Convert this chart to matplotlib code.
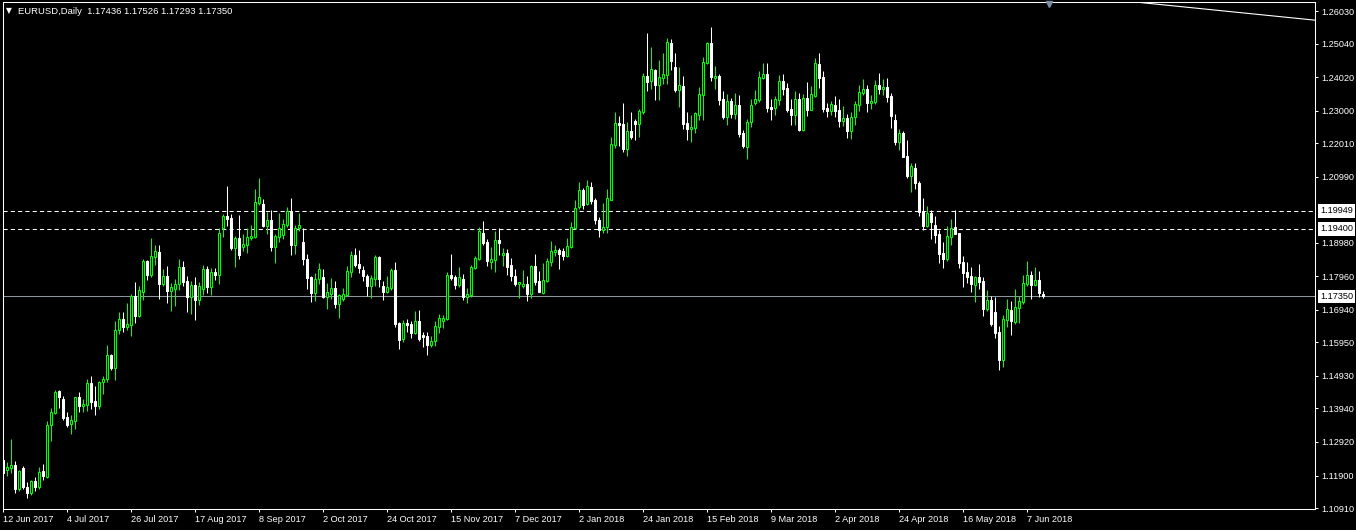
import matplotlib
matplotlib.use('Agg')
import matplotlib.pyplot as plt
import matplotlib.transforms as mtransforms
import numpy as np

# EURUSD daily bars, 12 Jun 2017 .. 13 Jun 2018
opens = [
    1.1237, 1.1208, 1.1213, 1.1222, 1.1150, 1.1213, 1.1156, 1.1138, 1.1173, 1.1156,
    1.1204, 1.1186, 1.1343, 1.1381, 1.1447, 1.1423, 1.1368, 1.1348, 1.1357, 1.1428,
    1.1402, 1.1403, 1.1472, 1.1417, 1.1400, 1.1475, 1.1483, 1.1557, 1.1518, 1.1632,
    1.1666, 1.1643, 1.1649, 1.1736, 1.1675, 1.1747, 1.1842, 1.1800, 1.1856, 1.1870,
    1.1773, 1.1797, 1.1752, 1.1757, 1.1772, 1.1824, 1.1782, 1.1734, 1.1770, 1.1725,
    1.1756, 1.1818, 1.1762, 1.1809, 1.1800, 1.1943, 1.1980, 1.1973, 1.1882, 1.1913,
    1.1885, 1.1892, 1.1913, 1.1916, 1.2019, 1.2017, 1.1949, 1.1967, 1.1885, 1.1916,
    1.1923, 1.1952, 1.1995, 1.1891, 1.1942, 1.1900, 1.1849, 1.1794, 1.1745, 1.1787,
    1.1794, 1.1734, 1.1742, 1.1760, 1.1712, 1.1726, 1.1739, 1.1810, 1.1861, 1.1833,
    1.1815, 1.1797, 1.1767, 1.1789, 1.1855, 1.1767, 1.1748, 1.1760, 1.1815, 1.1654,
    1.1605, 1.1654, 1.1651, 1.1625, 1.1660, 1.1617, 1.1615, 1.1587, 1.1599, 1.1642,
    1.1661, 1.1665, 1.1800, 1.1794, 1.1770, 1.1788, 1.1733, 1.1739, 1.1821, 1.1849,
    1.1928, 1.1900, 1.1840, 1.1846, 1.1906, 1.1861, 1.1867, 1.1830, 1.1797, 1.1773,
    1.1767, 1.1773, 1.1742, 1.1827, 1.1782, 1.1745, 1.1782, 1.1840, 1.1870, 1.1876,
    1.1873, 1.1858, 1.1885, 1.1943, 1.2007, 1.2059, 1.2016, 1.2068, 1.2028, 1.1967,
    1.1937, 1.1947, 1.2028, 1.2194, 1.2262, 1.2259, 1.2183, 1.2237, 1.2268, 1.2259,
    1.2296, 1.2405, 1.2390, 1.2424, 1.2378, 1.2399, 1.2408, 1.2506, 1.2433, 1.2363,
    1.2375, 1.2262, 1.2244, 1.2247, 1.2287, 1.2348, 1.2445, 1.2506, 1.2399, 1.2405,
    1.2335, 1.2281, 1.2329, 1.2290, 1.2317, 1.2232, 1.2190, 1.2265, 1.2323, 1.2332,
    1.2399, 1.2411, 1.2311, 1.2308, 1.2332, 1.2390, 1.2369, 1.2305, 1.2287, 1.2335,
    1.2241, 1.2338, 1.2302, 1.2344, 1.2442, 1.2402, 1.2308, 1.2299, 1.2317, 1.2302,
    1.2268, 1.2278, 1.2238, 1.2281, 1.2317, 1.2354, 1.2366, 1.2323, 1.2326, 1.2378,
    1.2366, 1.2372, 1.2344, 1.2271, 1.2206, 1.2232, 1.2162, 1.2101, 1.2126, 1.2080,
    1.1996, 1.1949, 1.1989, 1.1952, 1.1925, 1.1867, 1.1849, 1.1916, 1.1946, 1.1928,
    1.1840, 1.1809, 1.1797, 1.1770, 1.1794, 1.1782, 1.1697, 1.1724, 1.1687, 1.1627,
    1.1541, 1.1663, 1.1694, 1.1657, 1.1700, 1.1718, 1.1773, 1.1800, 1.1770, 1.1785,
    1.17436,
]
highs = [
    1.1242, 1.1230, 1.1301, 1.1233, 1.1207, 1.1219, 1.1169, 1.1176, 1.1186, 1.1216,
    1.1225, 1.1356, 1.1396, 1.1450, 1.1450, 1.1432, 1.1383, 1.1373, 1.1430, 1.1444,
    1.1423, 1.1484, 1.1493, 1.1462, 1.1478, 1.1493, 1.1587, 1.1561, 1.1660, 1.1687,
    1.1687, 1.1715, 1.1742, 1.1779, 1.1767, 1.1849, 1.1846, 1.1913, 1.1891, 1.1891,
    1.1818, 1.1827, 1.1775, 1.1788, 1.1849, 1.1843, 1.1797, 1.1782, 1.1794, 1.1778,
    1.1830, 1.1827, 1.1821, 1.1821, 1.1942, 1.1986, 1.2071, 1.1986, 1.1918, 1.1983,
    1.1925, 1.1943, 1.1952, 1.2062, 1.2095, 1.2031, 1.1992, 1.1998, 1.1925, 1.1988,
    1.1970, 1.2007, 1.2034, 1.1952, 1.1990, 1.1943, 1.1864, 1.1797, 1.1806, 1.1836,
    1.1818, 1.1776, 1.1791, 1.1782, 1.1742, 1.1760, 1.1827, 1.1873, 1.1882, 1.1876,
    1.1827, 1.1803, 1.1800, 1.1861, 1.1858, 1.1782, 1.1797, 1.1821, 1.1839, 1.1657,
    1.1663, 1.1666, 1.1660, 1.1691, 1.1694, 1.1627, 1.1627, 1.1614, 1.1660, 1.1681,
    1.1678, 1.1809, 1.1864, 1.1800, 1.1824, 1.1803, 1.1760, 1.1830, 1.1858, 1.1946,
    1.1964, 1.1910, 1.1885, 1.1934, 1.1943, 1.1882, 1.1879, 1.1852, 1.1818, 1.1779,
    1.1815, 1.1797, 1.1830, 1.1864, 1.1812, 1.1837, 1.1852, 1.1903, 1.1891, 1.1882,
    1.1882, 1.1913, 1.1961, 1.2028, 1.2083, 1.2065, 1.2089, 1.2083, 1.2034, 1.1977,
    1.2018, 1.2062, 1.2221, 1.2296, 1.2284, 1.2323, 1.2265, 1.2296, 1.2275, 1.2305,
    1.2415, 1.2536, 1.2494, 1.2427, 1.2454, 1.2475, 1.2521, 1.2518, 1.2475, 1.2433,
    1.2405, 1.2296, 1.2287, 1.2296, 1.2372, 1.2463, 1.2509, 1.2554, 1.2436, 1.2411,
    1.2360, 1.2351, 1.2338, 1.2354, 1.2348, 1.2241, 1.2275, 1.2335, 1.2363, 1.2420,
    1.2445, 1.2445, 1.2335, 1.2344, 1.2408, 1.2411, 1.2384, 1.2335, 1.2360, 1.2354,
    1.2351, 1.2387, 1.2375, 1.2460, 1.2475, 1.2420, 1.2323, 1.2329, 1.2344, 1.2335,
    1.2314, 1.2290, 1.2296, 1.2329, 1.2378, 1.2396, 1.2378, 1.2348, 1.2393, 1.2414,
    1.2396, 1.2399, 1.2354, 1.2290, 1.2243, 1.2238, 1.2211, 1.2140, 1.2140, 1.2086,
    1.2034, 1.2010, 1.1998, 1.1980, 1.1937, 1.1900, 1.1949, 1.1970, 1.1998, 1.1928,
    1.1858, 1.1840, 1.1824, 1.1797, 1.1834, 1.1794, 1.1754, 1.1736, 1.1733, 1.1645,
    1.1678, 1.1727, 1.1721, 1.1757, 1.1736, 1.1800, 1.1843, 1.1812, 1.1824, 1.1812,
    1.17526,
]
lows = [
    1.1192, 1.1190, 1.1197, 1.1138, 1.1144, 1.1148, 1.1123, 1.1131, 1.1144, 1.1150,
    1.1176, 1.1183, 1.1296, 1.1376, 1.1394, 1.1359, 1.1339, 1.1317, 1.1332, 1.1384,
    1.1383, 1.1387, 1.1393, 1.1375, 1.1392, 1.1439, 1.1475, 1.1511, 1.1482, 1.1621,
    1.1628, 1.1633, 1.1615, 1.1653, 1.1672, 1.1724, 1.1785, 1.1795, 1.1830, 1.1727,
    1.1765, 1.1716, 1.1691, 1.1707, 1.1754, 1.1767, 1.1688, 1.1682, 1.1664, 1.1710,
    1.1739, 1.1746, 1.1739, 1.1785, 1.1774, 1.1917, 1.1949, 1.1876, 1.1825, 1.1849,
    1.1873, 1.1867, 1.1906, 1.1913, 1.2013, 1.1946, 1.1925, 1.1873, 1.1837, 1.1900,
    1.1910, 1.1946, 1.1861, 1.1864, 1.1935, 1.1830, 1.1757, 1.1718, 1.1721, 1.1773,
    1.1729, 1.1697, 1.1726, 1.1700, 1.1669, 1.1721, 1.1736, 1.1794, 1.1824, 1.1806,
    1.1782, 1.1736, 1.1730, 1.1767, 1.1764, 1.1724, 1.1745, 1.1754, 1.1642, 1.1575,
    1.1596, 1.1627, 1.1608, 1.1621, 1.1599, 1.1581, 1.1558, 1.1581, 1.1584, 1.1624,
    1.1639, 1.1663, 1.1785, 1.1757, 1.1763, 1.1724, 1.1715, 1.1733, 1.1818, 1.1846,
    1.1891, 1.1827, 1.1818, 1.1809, 1.1861, 1.1827, 1.1800, 1.1782, 1.1767, 1.1730,
    1.1760, 1.1721, 1.1730, 1.1770, 1.1748, 1.1742, 1.1779, 1.1827, 1.1858, 1.1818,
    1.1846, 1.1855, 1.1882, 1.1940, 1.2001, 1.2001, 1.2013, 1.2016, 1.1955, 1.1917,
    1.1927, 1.1929, 1.2028, 1.2185, 1.2192, 1.2174, 1.2162, 1.2214, 1.2211, 1.2220,
    1.2290, 1.2360, 1.2366, 1.2332, 1.2332, 1.2381, 1.2381, 1.2424, 1.2357, 1.2311,
    1.2244, 1.2211, 1.2205, 1.2232, 1.2272, 1.2272, 1.2443, 1.2390, 1.2366, 1.2317,
    1.2275, 1.2256, 1.2278, 1.2275, 1.2220, 1.2186, 1.2153, 1.2250, 1.2317, 1.2326,
    1.2396, 1.2296, 1.2271, 1.2287, 1.2317, 1.2348, 1.2296, 1.2256, 1.2256, 1.2238,
    1.2238, 1.2284, 1.2302, 1.2341, 1.2369, 1.2296, 1.2281, 1.2287, 1.2281, 1.2250,
    1.2253, 1.2217, 1.2214, 1.2256, 1.2299, 1.2348, 1.2296, 1.2305, 1.2320, 1.2351,
    1.2348, 1.2326, 1.2247, 1.2195, 1.2180, 1.2158, 1.2095, 1.2053, 1.2062, 1.1980,
    1.1937, 1.1947, 1.1910, 1.1897, 1.1837, 1.1821, 1.1843, 1.1891, 1.1925, 1.1821,
    1.1764, 1.1776, 1.1748, 1.1718, 1.1757, 1.1675, 1.1691, 1.1645, 1.1608, 1.1511,
    1.1520, 1.1642, 1.1618, 1.1651, 1.1654, 1.1712, 1.1767, 1.1727, 1.1767, 1.1733,
    1.17293,
]
closes = [
    1.1197, 1.1216, 1.1221, 1.1150, 1.1204, 1.1156, 1.1138, 1.1173, 1.1156, 1.1200,
    1.1187, 1.1344, 1.1383, 1.1444, 1.1430, 1.1364, 1.1345, 1.1358, 1.1428, 1.1402,
    1.1406, 1.1472, 1.1414, 1.1400, 1.1475, 1.1483, 1.1557, 1.1517, 1.1633, 1.1666,
    1.1643, 1.1650, 1.1736, 1.1675, 1.1753, 1.1842, 1.1801, 1.1858, 1.1873, 1.1773,
    1.1797, 1.1752, 1.1762, 1.1772, 1.1824, 1.1778, 1.1734, 1.1770, 1.1725, 1.1765,
    1.1818, 1.1762, 1.1809, 1.1800, 1.1928, 1.1980, 1.1970, 1.1882, 1.1913, 1.1861,
    1.1894, 1.1916, 1.1919, 1.2022, 1.2037, 1.1949, 1.1967, 1.1885, 1.1918, 1.1942,
    1.1955, 1.1995, 1.1891, 1.1943, 1.1952, 1.1849, 1.1791, 1.1745, 1.1788, 1.1818,
    1.1732, 1.1748, 1.1760, 1.1712, 1.1739, 1.1742, 1.1812, 1.1861, 1.1830, 1.1821,
    1.1797, 1.1767, 1.1791, 1.1855, 1.1788, 1.1748, 1.1764, 1.1815, 1.1651, 1.1603,
    1.1654, 1.1648, 1.1625, 1.1660, 1.1606, 1.1612, 1.1587, 1.1599, 1.1645, 1.1669,
    1.1669, 1.1800, 1.1791, 1.1770, 1.1794, 1.1733, 1.1742, 1.1824, 1.1852, 1.1934,
    1.1897, 1.1843, 1.1849, 1.1906, 1.1897, 1.1867, 1.1824, 1.1797, 1.1773, 1.1779,
    1.1773, 1.1742, 1.1827, 1.1779, 1.1748, 1.1785, 1.1843, 1.1873, 1.1876, 1.1864,
    1.1858, 1.1888, 1.1946, 1.2004, 1.2059, 1.2013, 1.2071, 1.2025, 1.1967, 1.1937,
    1.1947, 1.2033, 1.2198, 1.2261, 1.2256, 1.2183, 1.2237, 1.2220, 1.2259, 1.2299,
    1.2405, 1.2387, 1.2427, 1.2378, 1.2402, 1.2411, 1.2509, 1.2451, 1.2363, 1.2378,
    1.2259, 1.2244, 1.2250, 1.2293, 1.2351, 1.2448, 1.2506, 1.2402, 1.2405, 1.2332,
    1.2281, 1.2329, 1.2290, 1.2317, 1.2229, 1.2192, 1.2265, 1.2317, 1.2335, 1.2402,
    1.2411, 1.2308, 1.2305, 1.2335, 1.2390, 1.2366, 1.2302, 1.2287, 1.2335, 1.2241,
    1.2338, 1.2302, 1.2351, 1.2445, 1.2399, 1.2305, 1.2299, 1.2320, 1.2299, 1.2268,
    1.2278, 1.2238, 1.2281, 1.2320, 1.2357, 1.2366, 1.2323, 1.2329, 1.2378, 1.2366,
    1.2372, 1.2341, 1.2284, 1.2205, 1.2232, 1.2160, 1.2101, 1.2132, 1.2079, 1.1993,
    1.1949, 1.1989, 1.1961, 1.1923, 1.1864, 1.1849, 1.1919, 1.1943, 1.1925, 1.1837,
    1.1806, 1.1794, 1.1773, 1.1794, 1.1779, 1.1697, 1.1724, 1.1651, 1.1624, 1.1541,
    1.1666, 1.1697, 1.1660, 1.1703, 1.1721, 1.1776, 1.1800, 1.1770, 1.1785, 1.1745,
    1.17350,
]

x_labels = ['12 Jun 2017', '4 Jul 2017', '26 Jul 2017', '17 Aug 2017', '8 Sep 2017',
            '2 Oct 2017', '24 Oct 2017', '15 Nov 2017', '7 Dec 2017', '2 Jan 2018',
            '24 Jan 2018', '15 Feb 2018', '9 Mar 2018', '2 Apr 2018', '24 Apr 2018',
            '16 May 2018', '7 Jun 2018']
bars_per_label = 16
y_ticks = [1.26030, 1.25040, 1.24020, 1.23000, 1.22010, 1.20990, 1.18980, 1.17960,
           1.16940, 1.15950, 1.14930, 1.13940, 1.12920, 1.11900, 1.10910]

# horizontal levels and the trend line object
dashed_levels = [1.19949, 1.19400]
bid_level = 1.17350
trend_bars = [280, 328]
trend_prices = [1.2634, 1.2575]
marker_bar = 261.5
marker_price = 1.2623

lime = '#00ff00'
font = 'Liberation Sans'

opens = np.array(opens)
highs = np.array(highs)
lows = np.array(lows)
closes = np.array(closes)
x = np.arange(len(closes))
up = closes >= opens

fig = plt.figure(figsize=(13.56, 5.30), dpi=100, facecolor='black')
W, H = 1356, 530
ax = fig.add_axes([2.7 / W, 1 - 509 / H, (1315 - 2.7) / W, (509 - 1.5) / H])
ax.set_facecolor('black')

# wicks
ax.vlines(x[up], lows[up], highs[up], color=lime, linewidth=0.75, zorder=2)
ax.vlines(x[~up], lows[~up], highs[~up], color='white', linewidth=0.75, zorder=2)
# bodies
ax.bar(x[up], closes[up] - opens[up], bottom=opens[up], width=0.55,
       facecolor='black', edgecolor=lime, linewidth=0.75, zorder=3)
ax.bar(x[~up], opens[~up] - closes[~up], bottom=closes[~up], width=0.55,
       facecolor='white', edgecolor='white', linewidth=0.75, zorder=3)

for lvl in dashed_levels:
    ax.axhline(lvl, color='white', linewidth=0.75, linestyle=(0, (4, 3)), zorder=1)
ax.axhline(bid_level, color='#8e959c', linewidth=0.75, zorder=1)

ax.plot(trend_bars, trend_prices, color='white', linewidth=0.8, zorder=4)
ax.plot([marker_bar], [marker_price], marker='v', color='#7d8ca3', markersize=4.5,
        clip_on=False, zorder=5)

ax.set_xlim(-0.15, 327.9)
ax.set_ylim(1.10881, 1.26319)

for sp in ax.spines.values():
    sp.set_color('white')
    sp.set_linewidth(0.75)

ax.yaxis.tick_right()
ax.set_yticks(y_ticks)
ax.set_yticklabels(['%.5f' % v for v in y_ticks])
ax.tick_params(axis='y', colors='white', length=2.5, width=0.75, pad=2, labelsize=6.6)
ax.set_xticks(np.arange(len(x_labels)) * bars_per_label)
ax.set_xticklabels(x_labels, ha='left')
ax.tick_params(axis='x', colors='white', length=2.5, width=0.75, pad=2, labelsize=6.6)
for lab in ax.get_xticklabels() + ax.get_yticklabels():
    lab.set_fontfamily(font)
    lab.set_color('white')

trans = mtransforms.blended_transform_factory(ax.transAxes, ax.transData)
for lvl in dashed_levels + [bid_level]:
    ax.text(1.0 + 5 / 1312, lvl, '%.5f' % lvl, transform=trans, ha='left', va='center',
            fontsize=6.6, family=font, color='black', clip_on=False, zorder=6,
            bbox=dict(boxstyle='square,pad=0.25', facecolor='white', edgecolor='none'))

fig.text(6 / W, 1 - 11 / H, '\u25bc', color='white', fontsize=5.5, va='center',
         family='DejaVu Sans')
fig.text(18 / W, 1 - 11 / H, 'EURUSD,Daily  1.17436 1.17526 1.17293 1.17350',
         color='white', fontsize=6.8, va='center', family=font)

plt.savefig('out.png', dpi=100, facecolor='black')
